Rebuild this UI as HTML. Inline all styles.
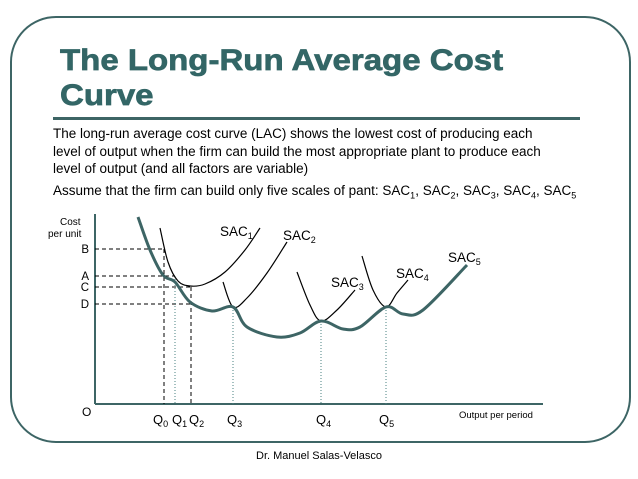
<!DOCTYPE html>
<html><head><meta charset="utf-8"><style>
body{margin:0;background:#fff;}
#wrap{position:relative;width:638px;height:479px;overflow:hidden;font-family:"Liberation Sans",sans-serif;}
.t{position:absolute;white-space:nowrap;color:#000;}
</style></head><body>
<div id="wrap">
<div style="position:absolute;left:10px;top:16px;width:617px;height:423px;border:2px solid #3d6565;border-radius:46px;"></div>
<div class="t" style="left:60px;top:43px;font-size:30px;font-weight:bold;color:#336666;line-height:35px;transform:scaleX(1.1);transform-origin:left top;-webkit-text-stroke:0.7px #336666;">The Long-Run Average Cost<br>Curve</div>
<div style="position:absolute;left:53px;top:117px;height:3px;background:#3d6565;width:527px;"></div>
<div class="t" style="left:53px;top:125px;font-size:13.5px;line-height:17.5px;">The long-run average cost curve (LAC) shows the lowest cost of producing each<br>level of output when the firm can build the most appropriate plant to produce each<br>level of output (and all factors are variable)</div>
<div class="t" style="left:53px;top:183px;font-size:13.5px;">Assume that the firm can build only five scales of pant: SAC<sub style="font-size:9px">1</sub>, SAC<sub style="font-size:9px">2</sub>, SAC<sub style="font-size:9px">3</sub>, SAC<sub style="font-size:9px">4</sub>, SAC<sub style="font-size:9px">5</sub></div>
<div class="t" style="left:0;width:638px;text-align:center;top:450px;font-size:11px;">Dr. Manuel Salas-Velasco</div>
<svg id="chart" width="638" height="479" style="position:absolute;left:0;top:0" font-family="Liberation Sans, sans-serif"></svg>
</div>
<script>
// data: x = output units from origin, y = cost units above x-axis
const levelNames=["B","A","C","D"];
const levelValues=[155,128,117,100];
const qNames=["Q0","Q1","Q2","Q3","Q4","Q5"];
const qValues=[69,80,96,138,226,291];
const sac1=[[65,176],[73,142],[83,123],[95,118],[110,120],[130,132],[150,154],[165,176]];
const sac2=[[128,122],[138,97],[152,106],[172,131],[192,162]];
const sac3=[[202,132],[215,99],[226,83],[242,94],[260,114]];
const sac4=[[267,148],[278,114],[291,97],[302,111],[313,124]];
const lac=[[43,187],[55,154],[68,129],[80,122],[95,102],[117,93],[138,97],[152,77],[182,67],[205,71],[226,83],[248,75],[265,77],[291,97],[308,90],[328,94],[372,139]];
const curveLabels=["SAC1","SAC2","SAC3","SAC4","SAC5"];
const labelPos=[[125,168],[188,164],[236,117],[301,126],[353,142]];
const X0=95,Y0=404;
const qLabelOffset=[-11,-3,-2,-6,-5,-7];
function sx(v){return X0+v;}
function sy(v){return Y0-v;}
const svg=document.getElementById('chart');
const NS="http://www.w3.org/2000/svg";
function mk(t,a){const e=document.createElementNS(NS,t);for(const k in a)e.setAttribute(k,a[k]);svg.appendChild(e);return e;}
function path(pts){const p=pts.map(q=>[sx(q[0]),sy(q[1])]);let d="M"+p[0][0]+","+p[0][1];
for(let i=0;i<p.length-1;i++){const a=p[i-1]||p[i],b=p[i],c=p[i+1],e=p[i+2]||c;
d+=" C"+(b[0]+(c[0]-a[0])/6)+","+(b[1]+(c[1]-a[1])/6)+" "+(c[0]-(e[0]-b[0])/6)+","+(c[1]-(e[1]-b[1])/6)+" "+c[0]+","+c[1];}return d;}
let ax=mk('line',{x1:X0,y1:sy(190),x2:X0,y2:Y0,stroke:'#3d6565','stroke-width':2});


ax=mk('line',{x1:X0,y1:Y0,x2:543,y2:Y0,stroke:'#3d6565','stroke-width':2});


levelValues.forEach((v,i)=>{
 const xe=[qValues[0],qValues[1],qValues[2],qValues[2]][i];
 const l=mk('line',{x1:X0,y1:sy(v),x2:sx(xe),y2:sy(v),stroke:'#000','stroke-width':1,'stroke-dasharray':'4,3'});
 
 
 const t=mk('text',{x:X0-6,y:sy(v)+4,'font-size':11.5,'text-anchor':'end'});t.textContent=levelNames[i];
 
 
});
const qTop=[levelValues[0],levelValues[1],levelValues[2],97,83,97];
qValues.forEach((v,i)=>{
 const dashed=i===0||i===2;
 const l=mk('line',{x1:sx(v),y1:sy(qTop[i]),x2:sx(v),y2:Y0,stroke:dashed?'#000':'#4a8080','stroke-width':1,'stroke-dasharray':dashed?'4,3':'1,2'});
 
 
 const t=mk('text',{x:sx(v)+qLabelOffset[i],y:Y0+20,'font-size':13});
 t.innerHTML='Q<tspan font-size="9" dy="3">'+qNames[i].slice(1)+'</tspan>';
 
 
});
[sac1,sac2,sac3,sac4].forEach((c,i)=>{
 const p=mk('path',{d:path(c),fill:'none',stroke:'#000','stroke-width':1.2});
 
 
});
const lp=mk('path',{d:path(lac),fill:'none',stroke:'#3d6565','stroke-width':3});


curveLabels.forEach((n,i)=>{
 const t=mk('text',{x:sx(labelPos[i][0]),y:sy(labelPos[i][1]),'font-size':13.5});
 t.innerHTML='SAC<tspan font-size="9" dy="3">'+n.slice(3)+'</tspan>';
 
 
});
function txt(x,y,s,fs,name,anchor){const t=mk('text',{x:x,y:y,'font-size':fs,'text-anchor':anchor||'start'});t.textContent=s;
 
 }
txt(60,225,'Cost',10,'y-axis-title-line1');
txt(48,237,'per unit',10,'y-axis-title-line2');
txt(82,416,'O',12,'origin-label');
txt(459,418,'Output per period',9.5,'x-axis-title');
</script>
</body></html>
